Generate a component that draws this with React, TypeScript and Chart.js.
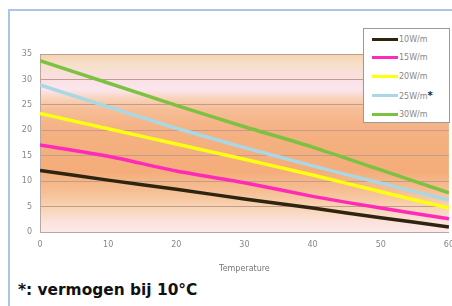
import React, { useEffect, useRef } from "react";
import { Chart, registerables } from "chart.js";

Chart.register(...registerables);

const temperatures = [0, 10, 20, 30, 40, 50, 60];
const seriesNames = ["10W/m", "15W/m", "20W/m", "25W/m", "30W/m"];
const legendLabels = ["10W/m", "15W/m", "20W/m", "25W/m*", "30W/m"];
const s10 = [12.1, 10.2, 8.4, 6.5, 4.7, 2.8, 1.0];
const s15 = [17.1, 14.9, 12.0, 9.7, 7.0, 4.7, 2.6];
const s20 = [23.3, 20.3, 17.3, 14.3, 11.2, 7.9, 4.7];
const s25 = [28.9, 24.6, 20.4, 16.6, 13.0, 9.6, 6.3];
const s30 = [33.7, 29.3, 24.9, 20.7, 16.7, 12.2, 7.7];
const seriesValues = [s10, s15, s20, s25, s30];
const colors = ["#2e2410", "#ff2bb8", "#ffff10", "#a9d8e4", "#7dc142"];
const yTicks = [0, 5, 10, 15, 20, 25, 30, 35];
const xTicks = [0, 10, 20, 30, 40, 50, 60];

const bgPlugin = {
  id: "bgBands",
  beforeDraw(chart: any) {
    const { ctx, chartArea, scales } = chart;
    const y = scales.y;
    const top = y.getPixelForValue(35);
    const bottom = y.getPixelForValue(0);
    const g = ctx.createLinearGradient(0, top, 0, bottom);
    const stop = (v: number, c: string) => g.addColorStop((35 - v) / 35, c);
    stop(35, "#f3d3b2");
    stop(33, "#f7e0c8");
    stop(30.5, "#f9dfe0");
    stop(28, "#fbe6ee");
    stop(26, "#f8d0b4");
    stop(24, "#f6bd96");
    stop(20, "#f5b182");
    stop(12, "#f4ad7a");
    stop(8, "#f6bf94");
    stop(5, "#f8d3b2");
    stop(2, "#fbe2dc");
    stop(0, "#fce9e8");
    ctx.save();
    ctx.fillStyle = g;
    ctx.fillRect(chartArea.left, top, chartArea.right - chartArea.left, bottom - top);
    ctx.restore();
  },
};

export default function App() {
  const ref = useRef<HTMLCanvasElement>(null);
  useEffect(() => {
    document.body.style.margin = "0";
    const chart = new Chart(ref.current as HTMLCanvasElement, {
      type: "line",
      data: {
        datasets: seriesValues.map((vals, i) => ({
          label: seriesNames[i],
          data: vals.map((v, j) => ({ x: temperatures[j], y: v })),
          borderColor: colors[i],
          backgroundColor: colors[i],
          borderWidth: 3.5,
          pointRadius: 0,
          tension: 0.2,
        })),
      },
      options: {
        animation: false,
        responsive: false,
        events: [],
        layout: { padding: { top: 44, right: 0, left: 0, bottom: 0 } },
        plugins: { legend: { display: false }, tooltip: { enabled: false } },
        scales: {
          x: {
            type: "linear",
            min: 0,
            max: 60,
            afterBuildTicks: (s: any) => {
              s.ticks = xTicks.map((v) => ({ value: v }));
            },
            afterFit: (s: any) => {
              s.height = 42;
            },
            grid: { display: false, drawTicks: true, tickLength: 4, color: "#b9a7a0" },
            border: { display: true, color: "#b9a7a0" },
            ticks: { color: "#888", font: { family: "DejaVu Sans", size: 8 }, padding: 4, maxRotation: 0 },
            title: {
              display: true,
              text: "Temperature",
              color: "#777",
              font: { family: "DejaVu Sans", size: 8 },
              padding: { top: 8, bottom: 0 },
            },
          },
          y: {
            min: 0,
            max: 35,
            afterBuildTicks: (s: any) => {
              s.ticks = yTicks.map((v) => ({ value: v }));
            },
            afterFit: (s: any) => {
              s.width = 31;
            },
            grid: { color: "#c39c8b", lineWidth: 1, drawTicks: false },
            border: { display: true, color: "#b9a7a0" },
            ticks: { color: "#888", font: { family: "DejaVu Sans", size: 8 }, padding: 8 },
          },
        },
      },
      plugins: [bgPlugin],
    } as any);
    return () => chart.destroy();
  }, []);

  return (
    <div style={{ position: "relative", width: 452, height: 306, background: "#fff", overflow: "hidden" }}>
      <div
        style={{
          position: "absolute",
          left: 8,
          top: 9,
          width: 460,
          height: 320,
          borderLeft: "2px solid #a9c6e8",
          borderTop: "2px solid #a9c6e8",
          boxSizing: "border-box",
        }}
      />
      <canvas ref={ref} width={449} height={264} style={{ position: "absolute", left: 9, top: 10 }} />
      <div
        style={{
          position: "absolute",
          left: 363,
          top: 28,
          width: 87,
          height: 95,
          background: "#fff",
          border: "1px solid #999",
          boxSizing: "border-box",
          fontFamily: "DejaVu Sans",
          fontSize: 8,
          color: "#888",
        }}
      >
        {legendLabels.map((lab, i) => (
          <div key={lab} style={{ position: "absolute", left: 8, top: 5 + i * 18.8, height: 10, display: "flex", alignItems: "center" }}>
            <div style={{ width: 26, height: 3, background: colors[i] }} />
            <span style={{ marginLeft: 1 }}>
              {lab.replace("*", "")}
              {lab.includes("*") ? <span style={{ color: "#222", fontWeight: "bold", fontSize: 10 }}>*</span> : null}
            </span>
          </div>
        ))}
      </div>
      <div
        style={{
          position: "absolute",
          left: 18,
          top: 281,
          fontFamily: "DejaVu Sans",
          fontWeight: "bold",
          fontSize: 15.4,
          color: "#111",
          whiteSpace: "nowrap",
        }}
      >
        *: vermogen bij 10°C
      </div>
    </div>
  );
}
